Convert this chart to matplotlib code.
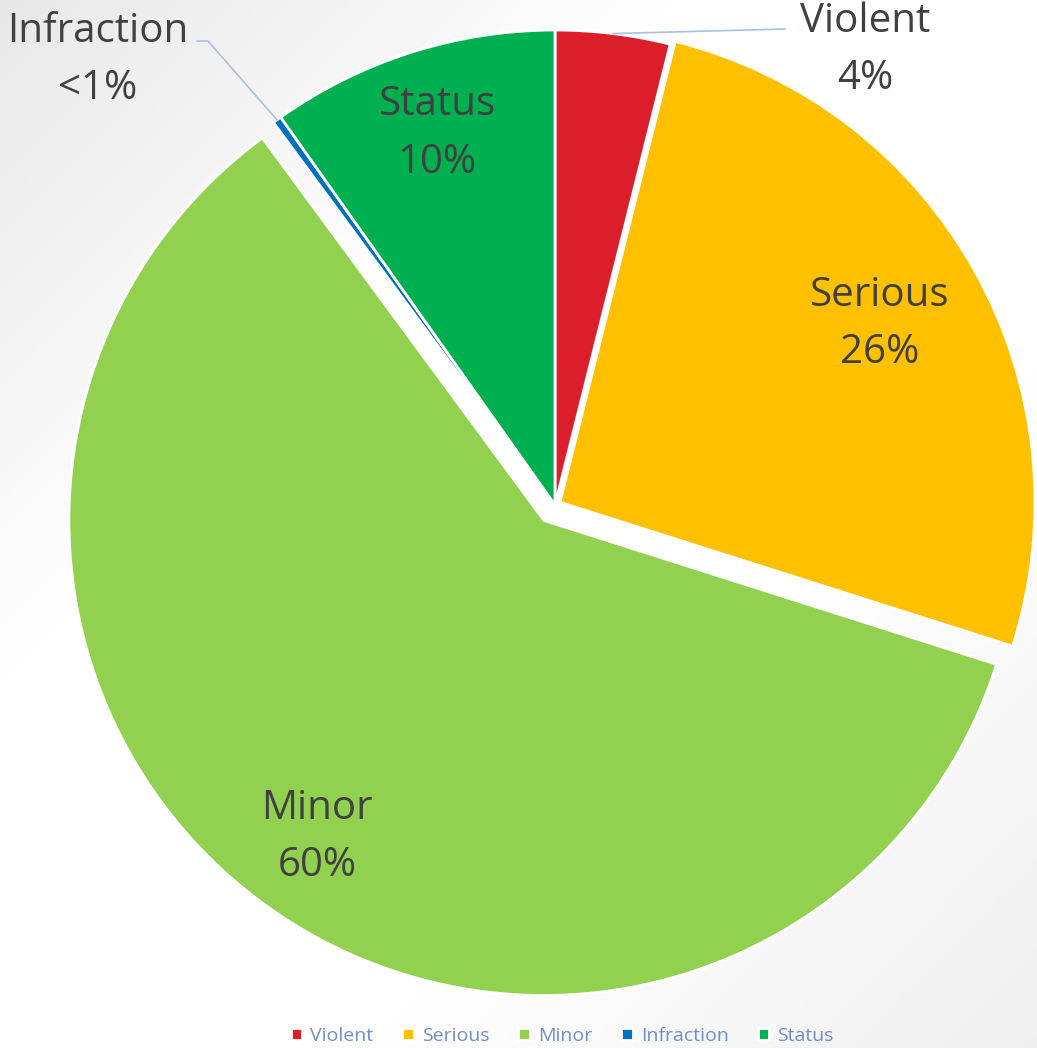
import numpy as np
import matplotlib.pyplot as plt

categories = ['Violent', 'Serious', 'Minor', 'Infraction', 'Status']
values = [3.9, 26.0, 60.0, 0.3, 9.8]
pct_labels = ['4%', '26%', '60%', '<1%', '10%']
colors = ['#DA1F2B', '#FFC000', '#92D050', '#0070C0', '#00B050']
explode = [0, 0.012, 0.04, 0, 0]

plt.rcParams['font.family'] = ['Open Sans', 'DejaVu Sans']
text_color = '#404040'
leader_color = '#A9C1E0'

W, H, dpi = 1037, 1048, 100
R = 475.0
cx, cy = 555.0, 505.0

fig = plt.figure(figsize=(W / dpi, H / dpi), dpi=dpi)

# soft diagonal background: grey in top-left and bottom-right corners
bg = fig.add_axes([0, 0, 1, 1], zorder=-1)
yy, xx = np.mgrid[0:H, 0:W]
s = xx / W + yy / H - 1
k = np.where(s < 0, 0.09, 0.06)
shade = 1 - k * np.clip((np.abs(s) - 0.35) / 0.65, 0, 1)
bg.imshow(np.dstack([shade] * 3), extent=[0, 1, 0, 1], aspect='auto')
bg.axis('off')

ax = fig.add_axes([0, 0, 1, 1])
ax.patch.set_alpha(0)
wedges, _ = ax.pie(values, colors=colors, explode=explode, startangle=90,
                   counterclock=False, radius=1,
                   wedgeprops=dict(edgecolor='white', linewidth=2))
ax.set_xlim(-cx / R, (W - cx) / R)
ax.set_ylim(-(H - cy) / R, cy / R)
ax.set_aspect('auto')
ax.axis('off')

def mid_angle(w):
    return np.deg2rad((w.theta1 + w.theta2) / 2)

label_size = 29
spacing = 1.55
# inside labels
inside_r = {1: 0.77, 2: 0.82, 4: 0.82}
for i, r in inside_r.items():
    w = wedges[i]
    a = mid_angle(w)
    x0, y0 = w.center
    ax.text(x0 + r * np.cos(a), y0 + r * np.sin(a),
            categories[i] + '\n' + pct_labels[i], ha='center', va='center',
            fontsize=label_size, color=text_color, linespacing=spacing)

# outside labels with leader lines
outside = {0: (865, 50), 3: (98, 60)}
for i, (px, py) in outside.items():
    w = wedges[i]
    a = mid_angle(w)
    tx, ty = (px - cx) / R, (cy - py) / R
    ax.text(tx, ty, categories[i] + '\n' + pct_labels[i], ha='center',
            va='center', fontsize=label_size, color=text_color,
            linespacing=spacing)
    sx, sy = np.cos(a), np.sin(a)
    if i == 0:
        ex, ey = (785 - cx) / R, (cy - 29) / R
        ax.plot([sx, ex], [sy, ey], color=leader_color, lw=1.2)
    else:
        ex, ey = (197 - cx) / R, (cy - 41) / R
        kx = (208 - cx) / R
        ax.plot([sx, kx, ex], [sy, ey, ey], color=leader_color, lw=1.2)

leg = fig.legend(wedges, categories, loc='center', ncol=5,
                 bbox_to_anchor=(0.542, 1 - 1036 / H), frameon=False,
                 handlelength=0.6, handleheight=0.6, handletextpad=0.4,
                 columnspacing=1.5, fontsize=14)
for t in leg.get_texts():
    t.set_color('#6F8FC9')

fig.savefig('out.png', dpi=dpi)
